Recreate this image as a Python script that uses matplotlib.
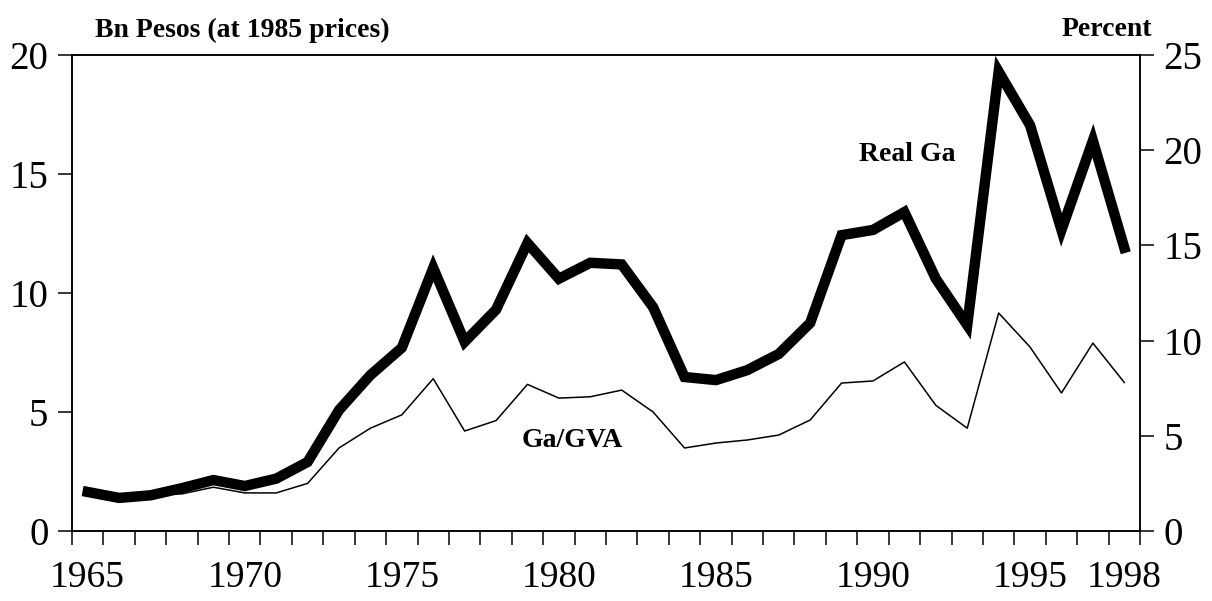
import matplotlib
matplotlib.use("Agg")
import matplotlib.pyplot as plt

years = list(range(1965, 1999))
real_ga = [1.64, 1.39, 1.50, 1.80, 2.14, 1.89, 2.20, 2.90, 5.08, 6.55,
           7.70, 11.05, 7.95, 9.30, 12.10, 10.60, 11.27, 11.20, 9.40, 6.47,
           6.34, 6.76, 7.44, 8.74, 12.43, 12.65, 13.40, 10.60, 8.65, 19.30,
           17.05, 12.65, 16.40, 11.90]
ga_gva = [2.05, 1.80, 1.90, 1.95, 2.30, 2.00, 2.00, 2.50, 4.36, 5.40,
          6.10, 8.00, 5.25, 5.80, 7.70, 6.98, 7.05, 7.40, 6.25, 4.36,
          4.62, 4.78, 5.04, 5.83, 7.77, 7.88, 8.88, 6.60, 5.40, 11.45,
          9.66, 7.25, 9.87, 7.80]
xlabels = [1965, 1970, 1975, 1980, 1985, 1990, 1995, 1998]
left_ticks = [0, 5, 10, 15, 20]
right_ticks = [0, 5, 10, 15, 20, 25]

serif = ["Liberation Serif", "DejaVu Serif"]
plt.rcParams['font.family'] = serif

fig = plt.figure(figsize=(12.12, 6.01), dpi=100)
ax = fig.add_axes([72/1212, 70/601, (1140-72)/1212, (531-55)/601])
ax2 = ax.twinx()

ax.plot(years, real_ga, color="black", lw=7.5, solid_joinstyle="miter", zorder=3)
ax2.plot(years, ga_gva, color="black", lw=1.1, zorder=3)

ax.set_xlim(1964.5, 1998.5)
ax.set_ylim(0, 20)
ax2.set_ylim(0, 25)

ax.set_yticks(left_ticks)
ax.set_yticklabels([str(t) for t in left_ticks])
ax2.set_yticks(right_ticks)
ax2.set_yticklabels([str(t) for t in right_ticks])

bounds = [y - 0.5 for y in years] + [years[-1] + 0.5]
ax.set_xticks(bounds)
ax.set_xticklabels([""] * len(bounds))
ax.set_xticks(xlabels, minor=True)
ax.set_xticklabels([str(x) for x in xlabels], minor=True)

ax.tick_params(axis="x", which="major", direction="out", length=10, width=1.1)
ax.tick_params(axis="x", which="minor", length=0, pad=21, labelsize=27)
ax.tick_params(axis="y", direction="out", length=10, width=1.1, pad=7, labelsize=28)
ax2.tick_params(axis="y", direction="out", length=10, width=1.1, pad=7, labelsize=28)

for a in (ax, ax2):
    for s in a.spines.values():
        s.set_linewidth(1.1)

fig.text(95/1212, 1 - 30/601, "Bn Pesos (at 1985 prices)", fontsize=20,
         fontweight="bold", ha="left", va="center")
fig.text(1152/1212, 1 - 30/601, "Percent", fontsize=20,
         fontweight="bold", ha="right", va="center")

ax.text(1980.42, 3.82, "Ga/GVA", fontsize=20, fontweight="bold",
        ha="center", va="center")
ax.text(1991.08, 15.8, "Real Ga", fontsize=20, fontweight="bold",
        ha="center", va="center")

fig.savefig("out.png", dpi=100)
